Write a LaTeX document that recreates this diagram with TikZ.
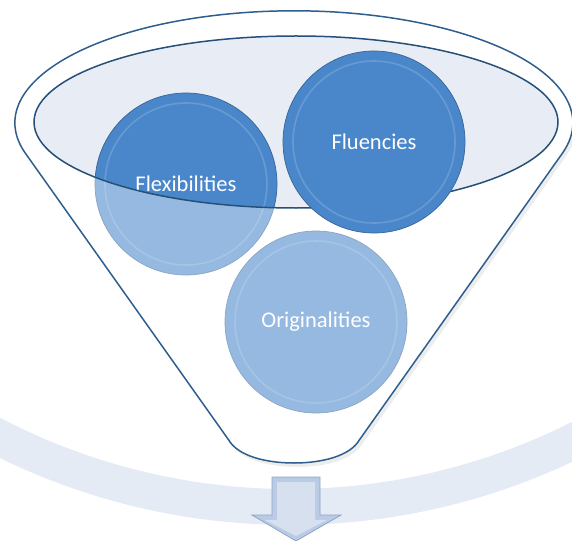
\documentclass[tikz,border=0pt]{standalone}
\usepackage{fontspec}
\setmainfont{Carlito}

\definecolor{ballblue}{RGB}{74,135,202}
\definecolor{rimblue}{RGB}{46,94,142}
\definecolor{lidgray}{RGB}{232,236,244}
\definecolor{bandgray}{RGB}{229,235,245}
\definecolor{arrowfill}{RGB}{186,203,229}
\definecolor{arrowline}{RGB}{140,164,200}

\newcommand{\funnelpath}{(25.7,153.7) arc[start angle=164,end angle=376,x radius=279,y radius=112]
	-- (359.3,440) .. controls (350,456) and (322,463) .. (294,463)
	.. controls (266,463) and (238,456) .. (228.7,440) -- cycle}

\begin{document}
\begin{tikzpicture}[x=1pt,y=-1pt,
	ball/.style={circle,minimum size=182pt,inner sep=0pt,fill=ballblue,
		draw=ballblue!75!black,line width=0.7pt,text=white,font=\fontsize{22.5}{27}\selectfont,
		path picture={\draw[white,opacity=0.16,line width=1.6pt] (path picture bounding box.center) circle (81pt);}},
	rim/.style={draw=rimblue,line width=1.5pt}]
	\clip (0,0) rectangle (572,540);
	
	% background band
	\draw[bandgray,line width=36pt] (290,-137) ++(118:644) arc[start angle=118,end angle=62,radius=644];
	
	% funnel
	\fill[black,opacity=0.07,shift={(3,4)}] \funnelpath;
	\fill[white] \funnelpath;
	\fill[lidgray] (296,122) ellipse[x radius=262,y radius=86];
	
	\node[ball] (flex) at (186,184) {Flexibilities};
	\node[ball] (orig) at (316,322) {Originalities};
	
	\fill[white,opacity=0.42,even odd rule] \funnelpath (296,122) ellipse[x radius=262,y radius=86];
	\draw[rim] \funnelpath;
	\draw[rim,draw=rimblue!85!black] (296,122) ellipse[x radius=262,y radius=86];
	
	\node[ball] (flu) at (374,142) {Fluencies};
	
	% arrow
	\draw[arrowline,fill=arrowfill,line width=0.8pt] (272,477) -- (320,477) -- (320,515) -- (341,515) -- (296,541) -- (252,515) -- (272,515) -- cycle;
	\fill[arrowfill!60!white] (277,482) -- (315,482) -- (315,520) -- (327,520) -- (296,536) -- (265,520) -- (277,520) -- cycle;
\end{tikzpicture}
\end{document}
